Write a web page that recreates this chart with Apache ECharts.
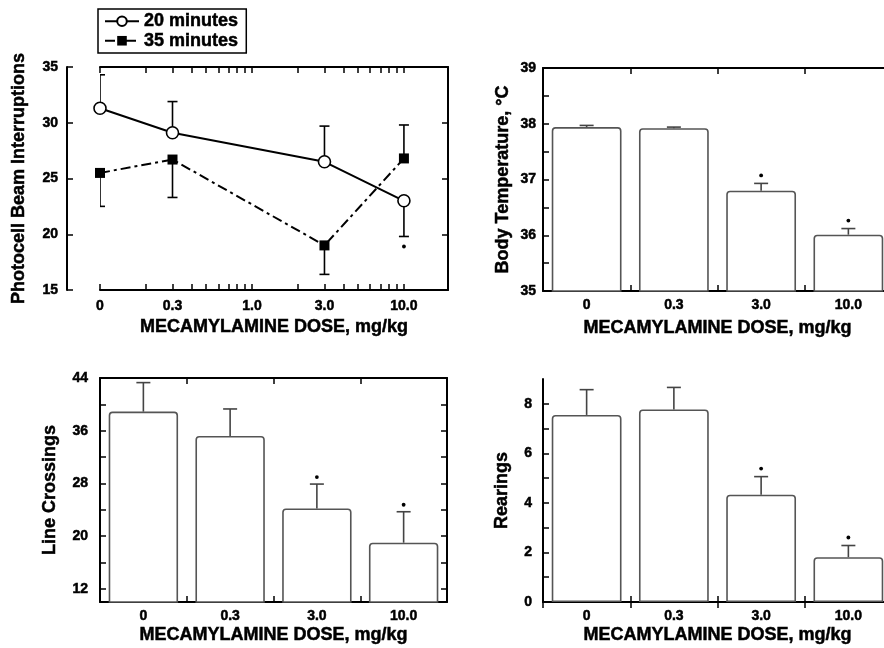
<!DOCTYPE html>
<html><head><meta charset="utf-8">
<script src="https://cdn.jsdelivr.net/npm/echarts@6/dist/echarts.min.js"></script>
<style>html,body{margin:0;padding:0;background:#fff}#c{width:884px;height:648px}</style>
</head><body><div id="c"></div>
<script>
// ---------- data ----------
const doseLabels = ['0', '0.3', '3.0', '10.0'];
const doseLogPos = [0.1, 0.3, 3, 10];           // "0" is drawn at the log-axis origin (0.1)
const logLabelValues = [0.1, 0.3, 1, 3, 10];
const logLabelTexts = ['0', '0.3', '1.0', '3.0', '10.0'];
const logTickValues = [0.1, 0.2, 0.3, 0.4, 0.5, 0.6, 0.7, 0.8, 0.9, 1, 2, 3, 4, 5, 6, 7, 8, 9, 10];

const beam20 = [31.3, 29.1, 26.5, 23.0];
const beam20Err = [34.3, 31.9, 29.7, 19.8];
const beam20Sig = [0, 0, 0, 1];
const beam35 = [25.5, 26.7, 19.0, 26.8];
const beam35Err = [22.5, 23.3, 16.4, 29.8];
const beam35Sig = [0, 0, 0, 0];

const temp = [37.94, 37.92, 36.80, 36.01];
const tempErr = [37.97, 37.94, 36.93, 36.12];
const crossings = [38.9, 35.2, 24.2, 19.0];
const crossingsErr = [43.3, 39.3, 27.9, 23.7];
const rearings = [7.55, 7.77, 4.33, 1.81];
const rearingsErr = [8.57, 8.66, 5.06, 2.28];
const barSig = [0, 0, 1, 1];

const beamTicks = [15, 20, 25, 30, 35];
const tempLabels = [35, 36, 37, 38, 39];
const tempTicks = [35, 35.5, 36, 36.5, 37, 37.5, 38, 38.5, 39];
const crossLabels = [12, 20, 28, 36, 44];
const crossTicks = [12, 16, 20, 24, 28, 32, 36, 40, 44];
const rearLabels = [0, 2, 4, 6, 8];
const rearTicks = [0, 1, 2, 3, 4, 5, 6, 7, 8];

const xTitle = 'MECAMYLAMINE DOSE, mg/kg';

// ---------- helpers ----------
const FONT = "'Liberation Sans', Arial, sans-serif";
const heavy = { textBorderColor: '#000', textBorderWidth: 0.5 };
const lblStyle = Object.assign({ color: '#000', fontFamily: FONT, fontWeight: 'bold', fontSize: 14 }, heavy);
const nameStyle = Object.assign({ color: '#000', fontFamily: FONT, fontWeight: 'bold', fontSize: 18 }, heavy);
const axLine = { show: true, lineStyle: { color: '#000', width: 2 } };

function errorBarItem(capHalf, dotGap, color, width) {
  return function (params, api) {
    const base = api.coord([api.value(0), api.value(1)]);
    const end = api.coord([api.value(0), api.value(2)]);
    const dir = end[1] < base[1] ? -1 : 1;
    const children = [
      { type: 'line', shape: { x1: base[0], y1: base[1], x2: end[0], y2: end[1] }, style: { stroke: color, lineWidth: width } },
      { type: 'line', shape: { x1: end[0] - capHalf, y1: end[1], x2: end[0] + capHalf, y2: end[1] }, style: { stroke: color, lineWidth: width } }
    ];
    if (api.value(3)) {
      children.push({ type: 'circle', shape: { cx: end[0], cy: end[1] + dir * dotGap, r: 1.9 }, style: { fill: '#000' } });
    }
    return { type: 'group', children: children };
  };
}

function logAxis(gridIndex, pos, withLabels) {
  return {
    type: 'log', logBase: 10, gridIndex: gridIndex, position: pos, min: 0.1, max: 19.5,
    axisLine: axLine,
    axisTick: { show: true, inside: true, length: 6, customValues: logTickValues, lineStyle: { color: '#000', width: 1.5 } },
    axisLabel: withLabels ? Object.assign({ show: true, margin: 9, customValues: logLabelValues,
      formatter: function (v) { const i = logLabelValues.findIndex(x => Math.abs(x - v) < 1e-9); return i >= 0 ? logLabelTexts[i] : ''; } }, lblStyle) : { show: false },
    splitLine: { show: false },
    name: withLabels ? xTitle : '', nameLocation: 'middle', nameGap: 28, nameTextStyle: nameStyle
  };
}
function catAxis(gridIndex, pos, withLabels, nameGap) {
  return {
    type: 'category', gridIndex: gridIndex, position: pos, data: doseLabels, boundaryGap: true,
    axisLine: axLine,
    axisTick: { show: true, inside: true, length: 6, alignWithLabel: false, lineStyle: { color: '#000', width: 1.5 } },
    axisLabel: withLabels ? Object.assign({ show: true, margin: 7 }, lblStyle) : { show: false },
    splitLine: { show: false },
    name: withLabels ? xTitle : '', nameLocation: 'middle', nameGap: nameGap, nameTextStyle: nameStyle
  };
}
function valAxis(gridIndex, pos, min, max, labels, ticks, name, nameGap, offset, labelMargin) {
  return {
    type: 'value', gridIndex: gridIndex, position: pos, min: min, max: max, offset: offset || 0,
    axisLine: axLine,
    axisTick: { show: true, inside: true, length: 6, customValues: ticks, lineStyle: { color: '#000', width: 1.5 } },
    axisLabel: labels ? Object.assign({ show: true, margin: labelMargin, customValues: labels }, lblStyle) : { show: false },
    splitLine: { show: false },
    name: name || '', nameLocation: 'middle', nameGap: nameGap, nameRotate: 90, nameTextStyle: nameStyle
  };
}
function barSeries(xi, yi, vals) {
  return {
    type: 'bar', xAxisIndex: xi, yAxisIndex: yi, data: vals, barCategoryGap: '20%',
    itemStyle: { color: '#fff', borderColor: '#555', borderWidth: 1.6, borderRadius: [3, 3, 0, 0] },
    z: 2, silent: true
  };
}
function errSeries(xi, yi, xs, vals, errs, sig, capHalf, dotGap, color) {
  return {
    type: 'custom', xAxisIndex: xi, yAxisIndex: yi, clip: true, z: 3, silent: true,
    renderItem: errorBarItem(capHalf, dotGap, color, 1.6),
    data: vals.map((v, i) => [xs[i], v, errs[i], sig[i]])
  };
}

const idx = doseLabels.map((d, i) => i);

const option = {
  animation: false,
  textStyle: { fontFamily: FONT },
  grid: [
    { left: 100, top: 67, width: 348, height: 223, outerBoundsMode: 'none' },
    { left: 543, top: 68, width: 349, height: 223, outerBoundsMode: 'none' },
    { left: 100, top: 378, width: 347, height: 224, outerBoundsMode: 'none' },
    { left: 543, top: 379, width: 349, height: 223, outerBoundsMode: 'none' }
  ],
  legend: {
    orient: 'vertical', left: 98, top: 9, padding: [3, 8, 3, 6], itemGap: 1,
    itemWidth: 34, itemHeight: 12,
    borderColor: '#000', borderWidth: 1.5, backgroundColor: '#fff',
    textStyle: Object.assign({ color: '#000', fontFamily: FONT, fontWeight: 'bold', fontSize: 18 }, heavy),
    data: ['20 minutes', '35 minutes']
  },
  xAxis: [
    logAxis(0, 'bottom', true), logAxis(0, 'top', false),
    catAxis(1, 'bottom', true, 28), catAxis(1, 'top', false, 0),
    catAxis(2, 'bottom', true, 24), catAxis(2, 'top', false, 0),
    catAxis(3, 'bottom', true, 24), catAxis(3, 'top', false, 0)
  ],
  yAxis: [
    valAxis(0, 'left', 15, 35, beamTicks, beamTicks, 'Photocell Beam Interruptions', 39, 33, 9),
    valAxis(0, 'right', 15, 35, null, beamTicks, '', 0, 0, 0),
    valAxis(1, 'left', 35, 39, tempLabels, tempTicks, 'Body Temperature, \u00B0C', 31, 0, 7),
    valAxis(1, 'right', 35, 39, null, tempTicks, '', 0, 0, 0),
    valAxis(2, 'left', 10, 44, crossLabels, crossTicks, 'Line Crossings', 41, 0, 12),
    valAxis(2, 'right', 10, 44, null, crossTicks, '', 0, 0, 0),
    valAxis(3, 'left', 0, 9, rearLabels, rearTicks, 'Rearings', 32, 0, 11),
    valAxis(3, 'right', 0, 9, null, rearTicks, '', 0, 0, 0)
  ],
  series: [
    errSeries(0, 0, doseLogPos, beam20, beam20Err, beam20Sig, 5, 10, '#000'),
    errSeries(0, 0, doseLogPos, beam35, beam35Err, beam35Sig, 5, 10, '#000'),
    {
      name: '20 minutes', type: 'line', xAxisIndex: 0, yAxisIndex: 0, z: 5,
      data: doseLogPos.map((x, i) => [x, beam20[i]]),
      lineStyle: { color: '#000', width: 2, type: 'solid' },
      symbol: 'circle', symbolSize: 12,
      itemStyle: { color: '#fff', borderColor: '#000', borderWidth: 1.6 }
    },
    {
      name: '35 minutes', type: 'line', xAxisIndex: 0, yAxisIndex: 0, z: 4,
      data: doseLogPos.map((x, i) => [x, beam35[i]]),
      lineStyle: { color: '#000', width: 2, type: [10, 4, 3, 4] },
      symbol: 'rect', symbolSize: 10,
      itemStyle: { color: '#000', borderColor: '#000', borderWidth: 0 }
    },
    barSeries(2, 2, temp),
    errSeries(2, 2, idx, temp, tempErr, barSig, 7, 8, '#444'),
    barSeries(4, 4, crossings),
    errSeries(4, 4, idx, crossings, crossingsErr, barSig, 7, 7, '#444'),
    barSeries(6, 6, rearings),
    errSeries(6, 6, idx, rearings, rearingsErr, barSig, 7, 8, '#444')
  ]
};
const chart = echarts.init(document.getElementById('c'), null, { renderer: 'canvas' });
chart.setOption(option);
</script></body></html>
